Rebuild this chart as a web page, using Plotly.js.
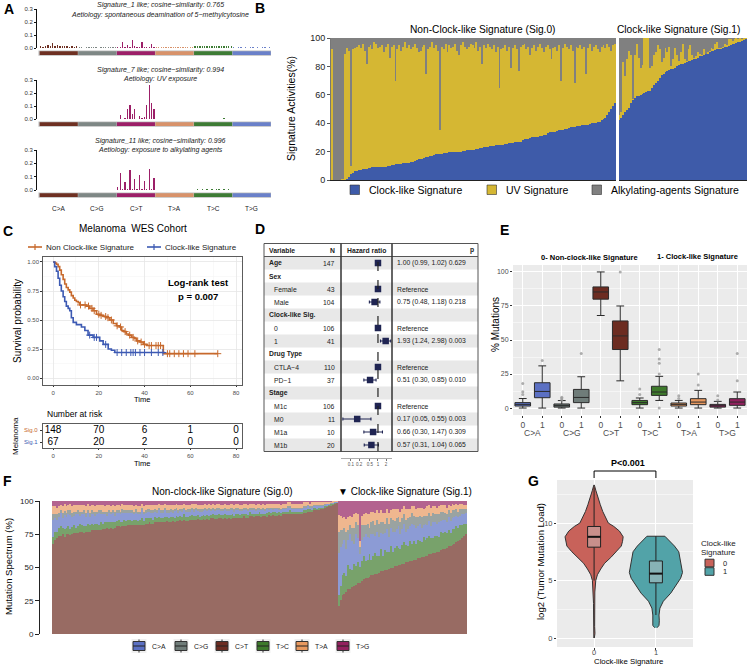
<!DOCTYPE html>
<html>
<head>
<meta charset="utf-8">
<script src="https://cdn.plot.ly/plotly-3.0.1.min.js"></script>
<style>body{margin:0;background:#fff}#plot{width:748px;height:666px}</style>
</head>
<body>
<div id="plot"></div>
<script>
const W = 748, H = 666
const X = v => v / W
const Y = v => 1 - v / H
const xd = (a, b) => [a / W, b / W]
const yd = (a, b) => [1 - b / H, 1 - a / H]
const FONT = 'Liberation Sans, Arial, sans-serif'

// ---- A: signature profiles (16 contexts x C>A, C>G, C>T, T>A, T>C, T>G)
const aTypes = ['C>A', 'C>G', 'C>T', 'T>A', 'T>C', 'T>G']
const sigA1 = [
  0.012,0.01,0.016,0.02,0.013,0.035,0.012,0.02,0.015,0.012,0.018,0.014,0.01,0.013,0.01,0.012,
  0.004,0.005,0.003,0.006,0.005,0.004,0.004,0.005,0.003,0.004,0.005,0.004,0.006,0.005,0.004,0.005,
  0.008,0.006,0.05,0.008,0.02,0.01,0.06,0.012,0.008,0.006,0.05,0.006,0.006,0.01,0.03,0.008,
  0.006,0.005,0.007,0.006,0.005,0.006,0.008,0.005,0.006,0.004,0.005,0.006,0.005,0.007,0.006,0.005,
  0.014,0.012,0.016,0.013,0.015,0.012,0.014,0.018,0.014,0.012,0.015,0.013,0.016,0.014,0.012,0.015,
  0.004,0.003,0.005,0.004,0.003,0.004,0.003,0.005,0.004,0.003,0.004,0.003,0.004,0.005,0.003,0.004,
]
const sigA7 = [
  0.002,0.001,0.002,0.002,0.001,0.002,0.001,0.002,0.001,0.001,0.002,0.001,0.002,0.001,0.001,0.002,
  0.001,0.001,0.0005,0.001,0.001,0.0005,0.001,0.001,0.0005,0.001,0.001,0.001,0.0005,0.001,0.001,0.001,
  0.003,0.03,0.002,0.004,0.075,0.11,0.035,0.075,0.003,0.025,0.005,0.018,0.105,0.26,0.12,0.075,
  0.001,0.0005,0.001,0.001,0.0005,0.001,0.001,0.0005,0.001,0.001,0.0005,0.001,0.001,0.001,0.0005,0.001,
  0.002,0.001,0.003,0.002,0.001,0.002,0.001,0.002,0.002,0.001,0.003,0.002,0.004,0.002,0.003,0.002,
  0.001,0.0005,0.001,0.0005,0.001,0.001,0.0005,0.001,0.0005,0.001,0.001,0.0005,0.001,0.0005,0.001,0.001,
]
const sigA11 = [
  0.002,0.001,0.002,0.001,0.002,0.002,0.001,0.002,0.001,0.002,0.001,0.002,0.001,0.001,0.002,0.001,
  0.001,0.0005,0.001,0.001,0.0005,0.001,0.001,0.0005,0.001,0.001,0.0005,0.001,0.0005,0.001,0.001,0.0005,
  0.02,0.125,0.006,0.06,0.008,0.15,0.006,0.08,0.006,0.115,0.006,0.065,0.01,0.16,0.006,0.09,
  0.001,0.001,0.0005,0.001,0.001,0.001,0.0005,0.001,0.001,0.0005,0.001,0.001,0.001,0.0005,0.001,0.001,
  0.003,0.004,0.003,0.005,0.003,0.004,0.003,0.004,0.003,0.005,0.004,0.003,0.004,0.003,0.005,0.003,
  0.001,0.0005,0.001,0.001,0.0005,0.001,0.001,0.001,0.0005,0.001,0.001,0.0005,0.001,0.001,0.0005,0.001,
]
const aTitles = [
  ['Signature_1 like; cosine−similarity: 0.765', 'Aetiology: spontaneous deamination of 5−methylcytosine'],
  ['Signature_7 like; cosine−similarity: 0.994', 'Aetiology: UV exposure'],
  ['Signature_11 like; cosine−similarity: 0.996', 'Aetiology: exposure to alkylating agents'],
]

// ---- B: signature activities (%) per sample
const bNames = ['Clock-like Signature', 'UV Signature', 'Alkylating-agents Signature']
const bClock0 = [
  0,0,0,0,0,0,0,0,1,2, 4,5,6,6,7,7,7.5,8,8,8.5, 8.5,9,9,9,9,9,9,9.5,9.5,10,
  10,10.5,10.5,11,11,11.5,11.5,12,12,12, 12,12.5,13,13.5,14,14.5,15,15,15.5,16,
  16.5,17,17,17.5,18,18,18.5,18.5,19,19, 19,19.5,19.5,19.5,20,20,20,20,20.5,20.5,
  21,21,21,21,21,21.5,22,22.5,22.5,23, 23,23.5,24,24,24,24.5,25,25,25,25,
  25.5,25.5,26,26,26,26.5,27,27,27,28, 29,29,29,29.5,30,30,30.5,30.5,31,31,
  31.5,32,33,33.5,34,34,34,34.5,35,35.5, 35.5,36,36,36.5,37,37.5,37.5,38,38,38,
  38.5,38.5,39,39,39.5,40,40,40,40.5,41, 42,43,44,46,48,50,52,54,
]
const bUV0 = [
  92,0,0,0,0,1,1,89,92,89, 6,87,87,88,88,86,88.5,83,74,85.5, 86.5,83,88,87,84,85,86,80.5,84.5,86,
  76,83.5,84.5,59,81,83.5,79.5,82,85,81, 83,79.5,81,82.5,79,75.5,76,79,79.5,59,
  75.5,77,80,75.5,77,73,16.5,75.5,73,77, 71,75.5,73.5,74.5,76,71,68,75,76.5,73.5,
  71,73,75,74,72,75.5,69,71.5,59.5,72, 70,72.5,70,68,71,65.5,69,40,67,68,
  69.5,65.5,68,53,67,68.5,65,50,67,67, 67,63,65,58.5,63,65,60.5,63.5,65,62,
  58.5,62,62,58.5,51,59,60,56.5,60,34.5, 57.5,60,58,55.5,58,53.5,30.5,56,55,57,
  53.5,55.5,36,54,56.5,51,54,55,51.5,49, 52,52,49,50,46,41,43,42,
]
const bAlk0 = [
  8,100,100,100,100,99,99,11,7,9, 90,8,7,6,5,7,4,9,18,6, 5,8,3,4,7,6,5,10,6,4,
  14,6,5,30,8,5,9,6,3,7, 5,8,6,4,7,10,9,6,5,25,
  8,6,3,7,5,9,65,6,8,4, 10,5,7,6,4,9,12,5,3,6,
  8,6,4,5,7,3,9,6,18,5, 7,4,6,8,5,10,6,35,8,7,
  5,9,6,21,7,5,8,23,6,5, 4,8,6,12,7,5,9,6,4,7,
  10,6,5,8,15,7,6,9,5,30, 7,4,6,8,5,9,32,6,7,5,
  8,6,25,7,4,9,6,5,8,10, 6,5,7,4,6,9,5,4,
]
const bClock1 = [
  42,44,46,48,49,51,54,56,58,59, 59.5,60,60.5,61,62,62.5,63,65,67,68,
  70,72,74,75,76,77,77.5,78,78.5,79, 80,81,81.5,82,82.5,83,83.5,84,84.5,85,
  85.5,86,87,87.5,88,88.5,89,90,90.5,91, 91.5,92,92,92.5,93,93.5,94,94.5,95,95.5,
  96,96.5,97,97.5,98,98.5,99.5,
]
const bUV1 = [
  4,4,37,25,36,40,34,1,30,37, 26.5,19,20.5,39,38,37.5,16,15,21,22,
  25,20,9,11,17,13,16.5,2,6.5,14, 8,3,8.5,14,2.5,0.5,8.5,11,3.5,1,
  1.5,4,2,0.5,4,0.5,1,1,2.5,1, 4.5,5,1,0.5,1,2.5,1,4.5,4,2.5,
  3,3.5,2,2.5,1,1.5,0.5,
]
const bAlk1 = [
  54,52,17,27,15,9,12,43,12,4, 14,21,19,0,0,0,21,20,12,10,
  5,8,17,14,7,10,6,20,15,7, 12,16,10,4,15,16.5,8,5,12,14,
  13,10,11,12,8,11,10,9,7,8, 4,3,7,7,6,4,5,1,1,2,
  1,0,1,0,1,0,0,
]

// ---- C: Kaplan-Meier
const kmNames = ['Non Clock-like Signature', 'Clock-like Signature']
const km0T = [0,0.8,1.5,2.2,2.9,3.6,4.4,5.1,5.8,6.6,7.3,8,8.8,9.5,10.2,11,11.7,13,14.6,16,17.5,19,20.5,22,23.5,24.8,26.3,27.7,29,30,31,32,33,34.3,35.5,36.5,38,39.4,41,44,48.2,72]
const km0S = [1,0.99,0.98,0.96,0.93,0.89,0.85,0.81,0.78,0.76,0.74,0.71,0.69,0.67,0.66,0.65,0.63,0.63,0.62,0.60,0.58,0.55,0.54,0.53,0.52,0.50,0.47,0.45,0.44,0.41,0.40,0.38,0.37,0.35,0.34,0.32,0.31,0.29,0.28,0.28,0.21,0.21]
const km1T = [0,0.7,1.5,2.2,2.9,3.6,4.4,5.1,5.8,6.6,7.3,8,8.8,10.2,12.4,13.9,15.3,17.5,20.4,21.9,24.1,25.5,27,49]
const km1S = [1,0.96,0.92,0.86,0.80,0.75,0.70,0.66,0.62,0.60,0.58,0.52,0.48,0.46,0.44,0.41,0.37,0.35,0.32,0.29,0.25,0.24,0.22,0.22]
const cens0 = [12,14,15.5,17,18,20,21,23,24,25.5,28,29.5,31.5,33.5,35,37,38.5,40,42,43,45,46,47,50,51,53,55,57,59,62,72]
const cens1 = [16,18,19,23,28,30,32,34,35,36,38,40,43,46,48]
const riskTimes = [0, 20, 40, 60, 80]
const risk0 = [148, 70, 6, 1, 0]
const risk1 = [67, 20, 2, 0, 0]

// ---- D: Cox model
const dVar = ['Age','Sex','Female','Male','Clock-like Sig.','0','1','Drug Type','CTLA−4','PD−1','Stage','M1c','M0','M1a','M1b']
const dBold = [true,true,false,false,true,false,false,true,false,false,true,false,false,false,false]
const dN = [147,null,43,104,null,106,41,null,110,37,null,106,11,10,20]
const dRef = [false,false,true,false,false,true,false,false,true,false,false,true,false,false,false]
const dHR = [1.00,null,1,0.75,null,1,1.93,null,1,0.51,null,1,0.17,0.66,0.57]
const dLo = [0.99,null,null,0.48,null,null,1.24,null,null,0.30,null,null,0.05,0.30,0.31]
const dHi = [1.02,null,null,1.18,null,null,2.98,null,null,0.85,null,null,0.55,1.47,1.04]
const dP = ['0.629','','','0.218','','','0.003','','','0.010','','','0.003','0.309','0.065']

// ---- E: % mutations by type and group (box stats)
const eTypes = ['C>A','C>G','C>T','T>C','T>A','T>G']
const eColors = ['#5B70C3','#6F7C79','#6C2C21','#3E7A2C','#E8995F','#93215F']
const eQ1 = [1.5,7.6,0.7,4,80,43,2.5,9.3,1.5,2.5,0.7,2]
const eMed = [2.7,12.2,1.8,7.8,85.3,53,4,11.8,2.7,4.4,1.7,4.4]
const eQ3 = [4,18.6,3,13.7,89,64,5.6,16,3.7,6.9,2.7,6.9]
const eLo = [0,0,0,0,68,20,0,5.6,0,0,0,0]
const eHi = [7,31,5.5,23,100,75,7.4,23.3,5.6,13,4.9,11.8]
const eOutX = [0,0,0,1,2,2,2,3,5,6,6,7,7,7,7,7,8,8,9,9,10,10,11,11]
const eOutY = [10,12,18,35,6,7,8,40,100,10,14,0,25,33,36,43,7,9,17,25,6,9,20,40]

// ---- F: mutation spectrum per sample (Sig.0 then Sig.1)
const fCT0 = [
  68,71,72,74,74,75,75,75,76,75.5, 75.5,76,76,76.5,76.5,77,76.5,77,77,77,
  77.5,78,78,78,78.5,78.5,79,79,79.5,79.5, 80,80,80,80.5,80.5,80.5,81,81,81,81.5,
  81.5,82,82,82,82.5,82.5,83,83,83,83.5, 83.5,83.5,83.5,84,84,84,84,84,84.5,84.5,
  84.5,84.5,85,85,85,85,85,85.5,85.5,85.5, 85.5,85.5,86,86,86,86,86,86,86.5,86.5,
  86.5,86.5,86.5,87,87,87,87,87,87,87, 87,87.5,87.5,87.5,87.5,88,88,88,88,88,
  88,88,88.5,88.5,88.5,88.5,88.5,89,89,89, 89,89,89,89,89,89.5,89.5,89.5,89.5,89.5,
  90,90,90,90,90.5,90.5,90.5,91,91,91, 91.5,91.5,92,92,92.5,93,93,93.5,94,94.5,
  95,95.5,96,96.5,97,97.5,98,98.5,
]
const fTC0 = [
  5,6,5,6,7,5,6,5,6,5, 5,6,4,5,6,5,5,4,6,5, 5,4,5,5,4,6,4,5,4,5, 4,5,4,4,5,4,3,5,4,4,
  4,3,4,4,3,4,5,3,4,4, 3,4,3,4,3,4,3,3,4,3, 3,4,3,3,4,3,3,3,4,3, 3,3,4,3,3,3,2,3,3,3,
  3,3,2,3,3,3,3,2,3,3, 3,2,3,3,2,3,3,2,3,2, 3,2,3,2,3,2,2,3,2,2, 2,3,2,2,2,3,2,2,2,2,
  2,2,2,3,2,2,2,2,2,2, 2,2,2,2,1,2,2,1,2,1, 1,1,1,1,1,1,0.5,0.5,
]
const fCA0 = [
  13,10,9,8,10,7,11,8,9,10, 8,7,10,9,6,8,9,7,8,6, 7,8,6,7,9,6,7,6,5,7, 6,7,5,6,5,6,7,5,6,5,
  5,6,4,5,5,4,6,5,4,5, 5,4,5,4,4,5,4,4,5,3, 4,4,3,5,4,3,4,4,3,4, 4,3,4,3,4,3,4,3,3,4,
  3,4,3,3,3,4,3,3,3,3, 3,3,4,3,3,3,3,3,2,3, 3,3,2,3,3,2,3,2,3,3, 2,3,2,3,2,2,3,2,2,2,
  2,2,3,2,2,2,2,2,2,2, 2,2,2,1,2,1,1,2,1,1, 1,1,1,0.5,0.5,0.5,0.5,0.3,
]
const fCG0 = [
  4,3,4,3,2,4,3,3,3,4, 3,3,2,3,3,2,3,3,2,3, 3,2,3,2,2,3,2,2,3,2, 2,2,3,2,2,2,3,2,2,2,
  2,2,2,3,2,2,2,2,2,2, 2,2,2,2,2,2,2,2,2,2, 2,2,2,1.5,2,2,1.5,2,2,1.5, 2,2,1.5,2,2,1.5,2,2,1.5,2,
  1.5,2,1.5,2,1.5,1.5,2,1.5,1.5,2, 1.5,1.5,1.5,1.5,2,1.5,1.5,1.5,1.5,1.5, 1.5,1.5,1.5,1.5,1.5,1.5,1.5,1.5,1,1.5,
  1.5,1,1.5,1,1.5,1,1,1.5,1,1, 1,1,1,1,1,1,1,1,1,1, 1,1,1,1,1,1,1,1,1,1, 1,0.5,0.5,0.5,0.5,0.3,0.3,0.3,
]
const fTA0 = [
  6,6,5,5,4,5,6,5,4,5, 5,5,5,4,5,5,4,5,5,5, 4,5,4,5,4,4,5,4,5,4, 4,4,4,4,4,4,4,4,4,4,
  4,4,4,3,4,4,3,4,4,3, 3,4,4,3,4,3,4,4,3,4, 4,3,4,3,3,4,3,3,3,4, 3,3,3,4,3,3,3,3,3,3,
  3,3,3,3,3,3,3,3,3,3, 3,3,3,3,3,3,3,3,3,3, 3,3,3,3,3,3,3,3,3,3, 3,3,3,3,3,3,3,3,3,3,
  3,3,3,3,3,3,3,3,3,3, 3,3,2,2,3,2,2,2,2,2, 2,2,1.5,1.5,1,1,0.5,0.5,
]
const fTG0 = [
  4,4,5,4,3,4,2,4,3,2, 4,3,3,3,3,3,3,4,2,4, 3,3,4,3,3,3,3,4,3,3, 4,3,4,3,3,4,2,3,3,3,
  3,3,4,3,4,4,2,4,3,3, 3,3,3,3,3,2,3,3,2,3, 3,3,3,3,2,3,3,3,2,3, 3,3,2,2,2,3,3,3,3,2,
  3,2,3,2,3,2,2,3,3,2, 3,3,2,2,3,2,2,3,3,2, 2,3,2,2,2,3,2,2,3,2, 3,2,2,2,2,2,2,2,3,2,
  2,2,1,1,2,2,2,2,2,2, 1,1,1,2,1,1,1,1,1,1, 1,0.5,0.5,0.5,0.5,0.2,0.2,0.2,
]
const fCT1 = [
  20,24,28,30,31,33,34,35,36,37, 38,39,40,41,42,42,43,44,44,45, 45,46,47,47,48,48,49,50,50,51,
  51,52,52,53,53,54,54,55,55,56, 56,57,57,58,58,59,59,60,60,61, 61,62,62,63,64,64,65,66,66,67,
  68,69,70,71,72,74,75,
]
const fTC1 = [
  8,10,14,16,12,18,15,13,17,14, 16,12,15,18,13,14,17,12,15,16, 14,13,17,12,15,14,13,16,12,14,
  15,13,12,14,16,13,12,15,13,14, 12,14,13,11,15,12,13,14,12,11, 13,12,11,14,12,13,11,12,10,12,
  11,12,10,11,10,9,8,
]
const fCA1 = [
  30,28,22,25,20,18,26,22,15,24, 18,10,16,14,20,17,12,19,16,13, 18,14,12,16,13,17,11,14,15,12,
  13,16,11,12,14,10,13,11,15,12, 12,10,13,11,9,12,10,11,9,12, 10,9,11,8,10,9,8,10,9,8,
  9,8,8,7,8,7,8,
]
const fCG1 = [
  15,12,10,9,12,8,7,10,12,9, 10,5,11,9,7,10,8,9,10,8, 9,10,8,9,7,8,10,7,9,8,
  8,7,9,8,7,9,8,7,8,7, 8,7,6,8,7,6,7,6,8,7, 6,7,6,7,6,5,6,5,6,6,
  5,5,4,5,4,4,3,
]
const fTA1 = [
  12,10,9,8,10,9,7,8,10,7, 8,5,7,8,9,7,10,8,7,9, 7,8,9,7,8,7,8,6,8,9,
  7,6,8,7,6,8,7,6,5,7, 6,7,6,7,5,6,7,6,6,5, 6,5,6,5,5,6,5,4,5,5,
  4,4,5,4,4,3,3,
]
const fTG1 = [
  10,11,12,12,13,12,11,12,10,9, 10,30,11,10,9,10,10,8,8,9, 7,9,7,9,9,6,9,7,6,6,
  6,6,8,6,4,6,6,6,4,4, 6,5,5,5,6,5,4,3,5,4, 4,5,4,3,3,3,5,3,4,2,
  3,2,3,2,2,3,3,
]

// ---- G: log2 TML violin outlines (level, half-width) and box stats
const gGroups = ['0', '1']
const gVioY0 = [0,0.4,1,2,3,4,5,5.5,6,6.5,7,7.5,8,8.4,8.8,9.3,9.7,10,10.5,11,11.6,12.2,12.8,13.3]
const gVioW0 = [0.004,0.014,0.009,0.008,0.009,0.012,0.027,0.054,0.107,0.17,0.27,0.36,0.44,0.46,0.47,0.41,0.32,0.23,0.18,0.14,0.1,0.06,0.03,0.004]
const gVioY1 = [0.9,1.1,1.5,2,2.6,3.2,3.9,4.7,5.2,5.7,6.5,7.5,8,8.4,8.85]
const gVioW1 = [0.02,0.05,0.055,0.05,0.065,0.12,0.24,0.34,0.4,0.43,0.4,0.37,0.3,0.23,0.145]
const gQ1 = [7.9, 4.8], gMed = [8.8, 5.6], gQ3 = [9.7, 6.7], gLo = [5.0, 2.0], gHi = [13.1, 8.85]

const traces = []
const shapes = []
const ann = []
const note = (x, y, text, size, color, extra) => ann.push(Object.assign({
  xref: 'paper', yref: 'paper', x: X(x), y: Y(y), text, showarrow: false,
  xanchor: 'center', yanchor: 'middle', font: {family: FONT, size, color: color || '#000'},
}, extra || {}))
const pline = (x0, y0, x1, y1, color, width) => shapes.push({type: 'line', xref: 'paper', yref: 'paper',
  x0: X(x0), y0: Y(y0), x1: X(x1), y1: Y(y1), line: {color, width}})
const prect = (x0, y0, x1, y1, fill, line) => shapes.push({type: 'rect', xref: 'paper', yref: 'paper',
  x0: X(x0), y0: Y(y1), x1: X(x1), y1: Y(y0), fillcolor: fill, line: line || {width: 0}})

// ===== A
const aColors = ['#6E3022', '#7E8785', '#9C1F68', '#D8926A', '#3E7C35', '#6A80C9']
const aTop = [9, 80, 150], aBot = [48, 119, 190], aTitleY = [5.5, 70, 141]
const idxA = sigA1.map((_, i) => i)
const colA = sigA1.map((_, i) => aColors[Math.floor(i / 16)])
const layout = {}
;[sigA1, sigA7, sigA11].forEach((vals, k) => {
  const s = k ? String(k + 1) : ''
  traces.push({type: 'bar', x: idxA, y: vals, xaxis: 'x' + s, yaxis: 'y' + s,
    marker: {color: colA}, width: 0.55, hoverinfo: 'skip'})
  layout['xaxis' + s] = {domain: xd(37, 271), range: [-1.5, 95.5], visible: false, anchor: 'y' + s}
  layout['yaxis' + s] = {domain: yd(aTop[k], aBot[k]), range: [0, 0.3], anchor: 'x' + s,
    tickvals: [0, 0.1, 0.2, 0.3], tickformat: '.1f', tickfont: {size: 6, color: '#333'},
    showline: true, linecolor: '#111', linewidth: 1, ticks: 'outside', ticklen: 2, tickcolor: '#111',
    showgrid: false, zeroline: false}
  shapes.push({type: 'rect', xref: 'x' + s, yref: 'paper', x0: -0.9, x1: 95.5,
    y0: Y(aBot[k] + 7.8), y1: Y(aBot[k] + 2.4), fillcolor: '#bdbdbd', line: {width: 0}})
  aColors.forEach((c, g) => shapes.push({type: 'rect', xref: 'x' + s, yref: 'paper',
    x0: g * 16 - 0.4, x1: g * 16 + 15.4, y0: Y(aBot[k] + 7), y1: Y(aBot[k] + 3.2),
    fillcolor: c, line: {width: 0}}))
  note(160, aTitleY[k], '<i>' + aTitles[k][0] + '</i>', 7, '#222')
  note(160, aTitleY[k] + 9, '<i>' + aTitles[k][1] + '</i>', 7, '#222')
})
aTypes.forEach((t, g) => ann.push({xref: 'x3', yref: 'paper', x: g * 16 + 7.5, y: Y(209), text: t,
  showarrow: false, xanchor: 'center', yanchor: 'middle', font: {family: FONT, size: 6.5, color: '#222'}}))

// ===== B
const bColors = ['#3E5BA9', '#D5B733', '#808080']
;[[bClock0, bClock1], [bUV0, bUV1], [bAlk0, bAlk1]].forEach(([s0, s1], j) => {
  traces.push({type: 'bar', name: bNames[j], x: s0.map((_, i) => i), y: s0, xaxis: 'x4', yaxis: 'y4',
    marker: {color: bColors[j], line: {width: 0}}, width: 1, hoverinfo: 'skip'})
  traces.push({type: 'bar', name: bNames[j], x: s1.map((_, i) => i), y: s1, xaxis: 'x5', yaxis: 'y5',
    marker: {color: bColors[j], line: {width: 0}}, width: 1, hoverinfo: 'skip'})
})
layout.xaxis4 = {domain: xd(331, 616), range: [-0.5, bClock0.length - 0.5], anchor: 'y4',
  showticklabels: false, ticks: '', showline: true, linecolor: '#222', linewidth: 1, showgrid: false, zeroline: false}
layout.xaxis5 = {domain: xd(618.5, 747), range: [-0.5, bClock1.length - 0.5], anchor: 'y5',
  showticklabels: false, ticks: '', showline: true, linecolor: '#222', linewidth: 1, showgrid: false, zeroline: false}
layout.yaxis4 = {domain: yd(38, 180), range: [0, 100], anchor: 'x4', tickvals: [0, 20, 40, 60, 80, 100],
  tickfont: {size: 9, color: '#222'}, ticks: 'outside', ticklen: 3, tickcolor: '#555',
  showline: true, linecolor: '#777', linewidth: 1, showgrid: false, zeroline: false}
layout.yaxis5 = {domain: yd(38, 180), range: [0, 100], anchor: 'x5', showticklabels: false,
  ticks: '', showline: false, showgrid: false, zeroline: false}
note(483, 30, 'Non-Clock-like Signature (Sig.0)', 10.2)
note(678, 30, 'Clock-like Signature (Sig.1)', 10.2)
note(291, 109, 'Signature Activities(%)', 10.5, '#000', {textangle: -90})
// legend keys for B
;[350, 487, 592].forEach((x0, j) => {
  prect(x0, 185, x0 + 9.5, 194.5, bColors[j], {color: '#333', width: 0.6})
  note(x0 + 17, 190, bNames[j], 10.5, '#000', {xanchor: 'left'})
})

// ===== C
const kmColors = ['#C7692C', '#3D5AB3']
const stepAt = (ts, ss, t) => {
  let s = ss[0]
  ts.forEach((v, i) => { if (v <= t) s = ss[i] })
  return s
}
;[[km0T, km0S, cens0], [km1T, km1S, cens1]].forEach(([ts, ss, cens], j) => {
  const c = kmColors[j]
  traces.push({type: 'scatter', mode: 'lines', name: kmNames[j], x: ts, y: ss, xaxis: 'x6', yaxis: 'y6',
    line: {shape: 'hv', color: c, width: 1.6}, hoverinfo: 'skip'})
  traces.push({type: 'scatter', mode: 'markers', x: cens, y: cens.map(t => stepAt(ts, ss, t)),
    xaxis: 'x6', yaxis: 'y6', marker: {symbol: 'cross-thin', size: 5, color: c, line: {color: c, width: 1}},
    hoverinfo: 'skip'})
})
;[[risk0, 1], [risk1, 0]].forEach(([vals, row]) => traces.push({type: 'scatter', mode: 'text',
  x: riskTimes, y: riskTimes.map(() => row), text: vals.map(String), xaxis: 'x7', yaxis: 'y7',
  textfont: {family: FONT, size: 10, color: '#000'}, cliponaxis: false, hoverinfo: 'skip'}))
const kmX = {range: [-4.4, 82.6], tickvals: [0, 20, 40, 60, 80], tickfont: {size: 6, color: '#4d4d4d'},
  ticks: 'outside', ticklen: 1.5, tickcolor: '#333', showline: true, mirror: true, linecolor: '#333', linewidth: 0.8,
  zeroline: false}
layout.xaxis6 = Object.assign({}, kmX, {domain: xd(43, 242), anchor: 'y6', showgrid: true, gridcolor: '#e6e6e6',
  gridwidth: 0.8, minor: {tickvals: [10, 30, 50, 70], showgrid: true, gridcolor: '#f3f3f3', gridwidth: 0.5}})
layout.yaxis6 = {domain: yd(257, 385), range: [-0.06, 1.043], anchor: 'x6', tickvals: [0, 0.25, 0.5, 0.75, 1],
  ticktext: ['0.00', '0.25', '0.50', '0.75', '1.00'], tickfont: {size: 6, color: '#4d4d4d'}, ticks: 'outside',
  ticklen: 2, tickcolor: '#333', showline: true, mirror: true, linecolor: '#333', linewidth: 0.8, zeroline: false,
  showgrid: true, gridcolor: '#e6e6e6', gridwidth: 0.8,
  minor: {tickvals: [0.125, 0.375, 0.625, 0.875], showgrid: true, gridcolor: '#f3f3f3', gridwidth: 0.5}}
layout.xaxis7 = Object.assign({}, kmX, {domain: xd(43, 242), anchor: 'y7', showgrid: false})
layout.yaxis7 = {domain: yd(424, 448), range: [-0.5, 1.5], anchor: 'x7', showticklabels: false, ticks: 'outside',
  ticklen: 2, tickvals: [0, 1], tickcolor: '#333', showline: true, mirror: true, linecolor: '#333',
  linewidth: 0.8, showgrid: false, zeroline: false}
note(133, 229, 'Melanoma  WES Cohort', 10)
note(17, 321, 'Survival probability', 10, '#000', {textangle: -90})
note(198, 282, '<b>Log-rank test</b>', 9.5)
note(198, 296, '<b>p = 0.007</b>', 9.5)
note(142, 399.5, 'Time', 7.5)
note(45, 414, 'Number at risk', 8.5, '#000', {xanchor: 'left'})
note(15, 436, 'Melanoma', 8, '#000', {textangle: -90})
note(40, 430, 'Sig.0', 6, kmColors[0], {xanchor: 'right'})
note(40, 442, 'Sig.1', 6, kmColors[1], {xanchor: 'right'})
note(142, 464, 'Time', 7.5)
// legend keys for C
;[28, 147].forEach((x0, j) => {
  pline(x0, 247, x0 + 14, 247, kmColors[j], 1.6)
  pline(x0 + 7, 244, x0 + 7, 250, kmColors[j], 1.2)
  note(x0 + 16, 247, kmNames[j], 8, '#222', {xanchor: 'left'})
})

// ===== D
const dRows = dVar.map((_, i) => i + 1)
traces.push({type: 'scatter', mode: 'markers', x: dHR, y: dRows, xaxis: 'x8', yaxis: 'y8',
  marker: {symbol: 'square', size: 6.5, color: '#1F2452'},
  error_x: {type: 'data', symmetric: false, color: '#1F2452', thickness: 1.1, width: 1.5,
    array: dHi.map((h, i) => (h == null ? null : h - dHR[i])),
    arrayminus: dLo.map((l, i) => (l == null ? null : dHR[i] - l))},
  hoverinfo: 'skip', cliponaxis: false})
layout.xaxis8 = {domain: xd(341, 392), type: 'log', range: [-1.37, 0.52], anchor: 'free', position: Y(458),
  tickvals: [0.1, 0.2, 0.5, 1, 2], ticktext: ['0.1', '0.2', '0.5', '1', '2'], tickfont: {size: 4.5, color: '#555'},
  tickangle: 0, ticks: 'outside', ticklen: 2, tickcolor: '#777', showline: true, linecolor: '#777', linewidth: 0.6,
  showgrid: false, zeroline: false}
layout.yaxis8 = {domain: yd(243.5, 451.5), range: [15.5, -0.5], anchor: 'x8', showticklabels: false,
  showgrid: false, zeroline: false, showline: false, ticks: ''}
dRows.forEach(r => {
  if (r % 2 === 1) shapes.push({type: 'rect', xref: 'paper', yref: 'y8', x0: X(264), x1: X(478),
    y0: r - 0.5, y1: r + 0.5, fillcolor: '#e8e8e8', line: {width: 0}, layer: 'below'})
})
shapes.push({type: 'line', xref: 'x8', yref: 'paper', x0: 1, x1: 1, y0: Y(451), y1: Y(257),
  line: {color: '#222', width: 1.2, dash: 'dash'}})
prect(264, 243.5, 478, 451.5, 'rgba(0,0,0,0)', {color: '#555', width: 1})
pline(264, 256.5, 478, 256.5, '#555', 1)
pline(341, 451.5, 341, 243.5, '#333', 1.5)
pline(392, 451.5, 392, 243.5, '#333', 1.5)
const dNote = (x, r, text, anchor) => ann.push({xref: 'paper', yref: 'y8', x: X(x), y: r, text, showarrow: false,
  xanchor: anchor, yanchor: 'middle', font: {family: FONT, size: 6.8, color: '#222'}})
dNote(267, 0, '<b>Variable</b>', 'left')
dNote(337, 0, '<b>N</b>', 'right')
dNote(366.5, 0, '<b>Hazard ratio</b>', 'center')
dNote(476, 0, '<b>p</b>', 'right')
dVar.forEach((v, i) => {
  const r = i + 1
  dNote(dBold[i] ? 267 : 272, r, dBold[i] ? '<b>' + v + '</b>' : v, 'left')
  if (dN[i] != null) dNote(337, r, String(dN[i]), 'right')
  const est = dRef[i] ? 'Reference'
    : dLo[i] != null ? `${dHR[i].toFixed(2)} (${dLo[i].toFixed(2)}, ${dHi[i].toFixed(2)}) ${dP[i]}` : ''
  if (est) dNote(395.5, r, est, 'left')
})

// ===== E
eTypes.forEach((t, g) => {
  const a = 2 * g, b = 2 * g + 1
  traces.push({type: 'box', name: t, x: [a, b], q1: [eQ1[a], eQ1[b]], median: [eMed[a], eMed[b]],
    q3: [eQ3[a], eQ3[b]], lowerfence: [eLo[a], eLo[b]], upperfence: [eHi[a], eHi[b]],
    xaxis: 'x9', yaxis: 'y9', fillcolor: eColors[g], line: {color: '#2b2b2b', width: 1}, width: 0.8,
    boxpoints: false, hoverinfo: 'skip'})
})
traces.push({type: 'scatter', mode: 'markers', x: eOutX, y: eOutY, xaxis: 'x9', yaxis: 'y9',
  marker: {color: '#9a9a9a', size: 3, opacity: 0.8}, hoverinfo: 'skip'})
layout.xaxis9 = {domain: xd(513, 747), range: [-0.5, 11.5], anchor: 'y9',
  tickvals: eQ1.map((_, i) => i), ticktext: eQ1.map((_, i) => String(i % 2)),
  tickfont: {size: 8.5, color: '#4d4d4d'}, ticks: 'outside', ticklen: 1.5, tickcolor: '#333',
  showgrid: true, gridcolor: '#fff', gridwidth: 1, zeroline: false, showline: false}
layout.yaxis9 = {domain: yd(265, 415), range: [-5.1, 105.1], anchor: 'x9', tickvals: [0, 25, 50, 75, 100],
  tickfont: {size: 7, color: '#4d4d4d'}, ticks: 'outside', ticklen: 2, tickcolor: '#333',
  showgrid: true, gridcolor: '#fff', gridwidth: 1, zeroline: false, showline: false,
  minor: {tickvals: [12.5, 37.5, 62.5, 87.5], showgrid: true, gridcolor: '#fff', gridwidth: 0.5}}
shapes.push({type: 'rect', xref: 'x9 domain', yref: 'y9 domain', x0: 0, x1: 1, y0: 0, y1: 1,
  fillcolor: '#ebebeb', line: {width: 0}, layer: 'below'})
eTypes.forEach((t, g) => ann.push({xref: 'x9', yref: 'paper', x: 2 * g + 0.5, y: Y(433), text: t,
  showarrow: false, xanchor: 'center', yanchor: 'middle', font: {family: FONT, size: 8.5, color: '#4d4d4d'}}))
note(589, 257, '<b>0- Non-clock-like Signature</b>', 7.5)
note(697, 256, '<b>1- Clock-like Signature</b>', 7.5)
note(495, 325, '% Mutations', 10, '#000', {textangle: -90})

// ===== F
const fStack = [
  ['C>T', fCT0.concat(fCT1), '#6C2C21'],
  ['T>C', fTC0.concat(fTC1), '#3E7A2C'],
  ['C>A', fCA0.concat(fCA1), '#5B70C3'],
  ['C>G', fCG0.concat(fCG1), '#6F7C79'],
  ['T>A', fTA0.concat(fTA1), '#E8995F'],
  ['T>G', fTG0.concat(fTG1), '#93215F'],
]
const fTotal = fStack[0][1].map((_, i) => fStack.reduce((acc, s) => acc + s[1][i], 0))
const fX = fTotal.map((_, i) => i)
fStack.forEach(([name, vals, c]) => traces.push({type: 'bar', name, x: fX,
  y: vals.map((v, i) => (100 * v) / fTotal[i]), xaxis: 'x10', yaxis: 'y10',
  marker: {color: c, opacity: 0.7, line: {width: 0}}, width: 1, hoverinfo: 'skip'}))
layout.xaxis10 = {domain: xd(52, 467), range: [-0.5, fX.length - 0.5], anchor: 'y10', visible: false}
layout.yaxis10 = {domain: yd(501, 634), range: [0, 100], anchor: 'free', position: X(39),
  tickvals: [0, 25, 50, 75, 100], tickfont: {size: 8, color: '#222'}, ticks: 'outside', ticklen: 4,
  tickcolor: '#222', showline: true, linecolor: '#222', linewidth: 1, showgrid: false, zeroline: false}
note(222, 491, 'Non-clock-like Signature (Sig.0)', 10)
note(405, 491, '▼ Clock-like Signature (Sig.1)', 10)
note(8, 567, 'Mutation Spectrum (%)', 9.5, '#000', {textangle: -90})
// legend keys (box glyphs) under F, same order and colours as panel E
const fKeyX = [133, 175, 216, 257, 296, 337]
eTypes.forEach((t, g) => {
  const x0 = fKeyX[g]
  prect(x0 - 1.5, 639, x0 + 13.5, 653, '#f0f0f0')
  pline(x0 + 6, 639.5, x0 + 6, 652.5, '#333', 1)
  prect(x0, 641.5, x0 + 12, 650.5, eColors[g], {color: '#333', width: 1})
  pline(x0, 646, x0 + 12, 646, '#222', 1)
  note(x0 + 17, 646, t, 6.8, '#222', {xanchor: 'left'})
})

// ===== G
const gCol = ['#C8625A', '#52A3A8']
;[[gVioY0, gVioW0], [gVioY1, gVioW1]].forEach(([ys, ws], k) => {
  const xs = ws.map(w => k + w).concat(ws.slice().reverse().map(w => k - w))
  const yy = ys.concat(ys.slice().reverse())
  traces.push({type: 'scatter', mode: 'lines', fill: 'toself', name: gGroups[k], x: xs, y: yy,
    xaxis: 'x11', yaxis: 'y11', fillcolor: gCol[k], line: {color: '#333', width: 1}, hoverinfo: 'skip'})
})
// boxes drawn over the violins
const gHalf = 0.105
gQ1.forEach((q1, k) => {
  traces.push({type: 'scatter', mode: 'lines', x: [k, k, null, k, k], y: [gLo[k], q1, null, gQ3[k], gHi[k]],
    xaxis: 'x11', yaxis: 'y11', line: {color: '#222', width: 1}, hoverinfo: 'skip'})
  traces.push({type: 'scatter', mode: 'lines', fill: 'toself',
    x: [k - gHalf, k + gHalf, k + gHalf, k - gHalf, k - gHalf], y: [q1, q1, gQ3[k], gQ3[k], q1],
    xaxis: 'x11', yaxis: 'y11', fillcolor: 'rgba(200,200,200,0.45)', line: {color: '#222', width: 1},
    hoverinfo: 'skip'})
  traces.push({type: 'scatter', mode: 'lines', x: [k - gHalf, k + gHalf], y: [gMed[k], gMed[k]],
    xaxis: 'x11', yaxis: 'y11', line: {color: '#111', width: 2}, hoverinfo: 'skip'})
})
layout.xaxis11 = {domain: xd(557, 693), range: [-0.6, 1.6], anchor: 'y11', tickvals: [0, 1],
  showticklabels: false, ticks: 'outside', ticklen: 1.5, tickcolor: '#333',
  showgrid: true, gridcolor: '#fff', gridwidth: 1, zeroline: false, showline: false}
layout.yaxis11 = {domain: yd(480, 647), range: [-0.78, 13.74], anchor: 'x11', tickvals: [0, 5, 10],
  tickfont: {size: 7.5, color: '#4d4d4d'}, ticks: 'outside', ticklen: 2, tickcolor: '#333',
  showgrid: true, gridcolor: '#fff', gridwidth: 1, zeroline: false, showline: false,
  minor: {tickvals: [2.5, 7.5, 12.5], showgrid: true, gridcolor: '#fff', gridwidth: 0.5}}
shapes.push({type: 'rect', xref: 'x11 domain', yref: 'y11 domain', x0: 0, x1: 1, y0: 0, y1: 1,
  fillcolor: '#ebebeb', line: {width: 0}, layer: 'below'})
gGroups.forEach((t, k) => ann.push({xref: 'x11', yref: 'paper', x: k, y: Y(652), text: t, showarrow: false,
  xanchor: 'center', yanchor: 'middle', font: {family: FONT, size: 7.5, color: '#4d4d4d'}}))
;[[0, 0, 478, 471], [0, 1, 471, 471], [1, 1, 471, 478]].forEach(([a, b, y0, y1]) => shapes.push({
  type: 'line', xref: 'x11', yref: 'paper', x0: a, x1: b, y0: Y(y0), y1: Y(y1), line: {color: '#000', width: 1}}))
note(628, 463, '<b>P<0.001</b>', 9)
note(540, 562, 'log2 (Tumor Mutation Load)', 9.5, '#000', {textangle: -90})
note(628, 661.5, 'Clock-like Signature', 7.8)
// legend for G
note(699, 543, 'Clock-like', 8, '#222', {xanchor: 'left'})
note(699, 552, 'Signature', 8, '#222', {xanchor: 'left'})
gCol.forEach((c, k) => {
  const yc = 563 + k * 8.5
  prect(705, yc - 3.8, 714, yc + 3.8, c, {color: '#333', width: 1})
  note(721, yc, gGroups[k], 7.5, '#222', {xanchor: 'left'})
})

// ===== panel letters
;[['A', 9, 9], ['B', 260, 8], ['C', 8, 231], ['D', 260, 229], ['E', 504, 230], ['F', 8, 481], ['G', 533, 481]]
  .forEach(([l, x, y]) => note(x, y, '<b>' + l + '</b>', 14))

Object.assign(layout, {
  width: W, height: H,
  margin: {l: 0, r: 0, t: 0, b: 0, autoexpand: false},
  paper_bgcolor: '#fff', plot_bgcolor: 'rgba(0,0,0,0)',
  font: {family: FONT, color: '#000'},
  barmode: 'stack',
  showlegend: false,
  shapes,
  annotations: ann,
})

Plotly.newPlot('plot', traces, layout, {displayModeBar: false, staticPlot: true})
</script>
</body>
</html>
